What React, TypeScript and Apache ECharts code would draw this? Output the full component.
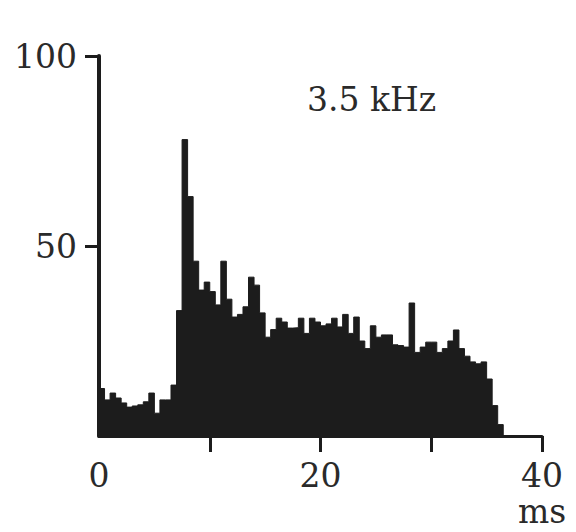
import React, { useEffect, useRef } from "react";
import * as echarts from "echarts";

// Peri-stimulus time histogram, 3.5 kHz, 0.5 ms bins starting at 0 ms
const binWidthMs = 0.5;
const counts: number[] = [
  12.5, 9.5, 11.3, 10, 8.7, 7.6, 7.9, 8.2, 9, 11.3,
  6, 9.5, 9.5, 13.4, 33, 78, 63, 46, 38.4, 40.5,
  38, 34.5, 46, 36, 31.3, 32, 34, 41.8, 39.7, 32.4,
  26, 28, 31, 30, 28.4, 28.5, 31, 27, 31, 30,
  29, 29.5, 31, 28.7, 32, 27, 31.3, 25, 23, 29,
  26, 26.6, 26.6, 24, 23.8, 23.4, 35, 22, 23.4, 24.7,
  24.7, 22, 23, 25, 27.9, 23, 21, 19.5, 19, 19.5,
  15, 8, 3,
];
const xTickValues = [10, 20, 30, 40];
const xLabelValues = [0, 20, 40];
const yTickValues = [50, 100];
const frequencyLabel = "3.5 kHz";
const unitLabel = "ms";

const INK = "#1c1c1c";
const FONT = "DejaVu Serif";

export default function App() {
  const ref = useRef<HTMLDivElement>(null);
  useEffect(() => {
    if (!ref.current) return;
    const chart = echarts.init(ref.current, null, { renderer: "svg" });
    const data: [number, number][] = counts.map((c, i) => [i * binWidthMs, c]);
    data.push([counts.length * binWidthMs, 0]);
    chart.setOption({
      animation: false,
      backgroundColor: "#ffffff",
      grid: { left: 99, right: 34, top: 56, bottom: 96, containLabel: false, outerBoundsMode: "none" },
      xAxis: {
        type: "value",
        min: 0,
        max: 40,
        interval: 10,
        splitLine: { show: false },
        axisLine: { show: true, lineStyle: { color: INK, width: 3 } },
        axisTick: { show: true, length: 16, inside: false, lineStyle: { color: INK, width: 3 }, customValues: xTickValues },
        axisLabel: {
          customValues: xLabelValues,
          margin: 21,
          color: "#2a2a2a",
          fontFamily: FONT,
          fontSize: 33,
          lineHeight: 36,
          formatter: (v: number) => (v === 40 ? `40\n${unitLabel}` : String(v)),
        },
      },
      yAxis: {
        type: "value",
        min: 0,
        max: 100,
        interval: 50,
        splitLine: { show: false },
        axisLine: { show: true, lineStyle: { color: INK, width: 4 } },
        axisTick: { show: true, length: 14, inside: false, lineStyle: { color: INK, width: 3 }, customValues: yTickValues },
        axisLabel: {
          customValues: yTickValues,
          margin: 22,
          color: "#2a2a2a",
          fontFamily: FONT,
          fontSize: 33,
        },
      },
      graphic: [
        {
          type: "text",
          left: 307,
          top: 83,
          style: { text: frequencyLabel, font: `33px "${FONT}"`, fill: "#2a2a2a" },
        },
      ],
      series: [
        {
          type: "line",
          step: "end",
          data,
          symbol: "none",
          lineStyle: { color: INK, width: 1 },
          areaStyle: { color: INK, opacity: 1 },
          z: 1,
        },
      ],
    });
    return () => chart.dispose();
  }, []);
  return <div ref={ref} style={{ position: "fixed", left: 0, top: 0, width: 576, height: 532 }} />;
}
